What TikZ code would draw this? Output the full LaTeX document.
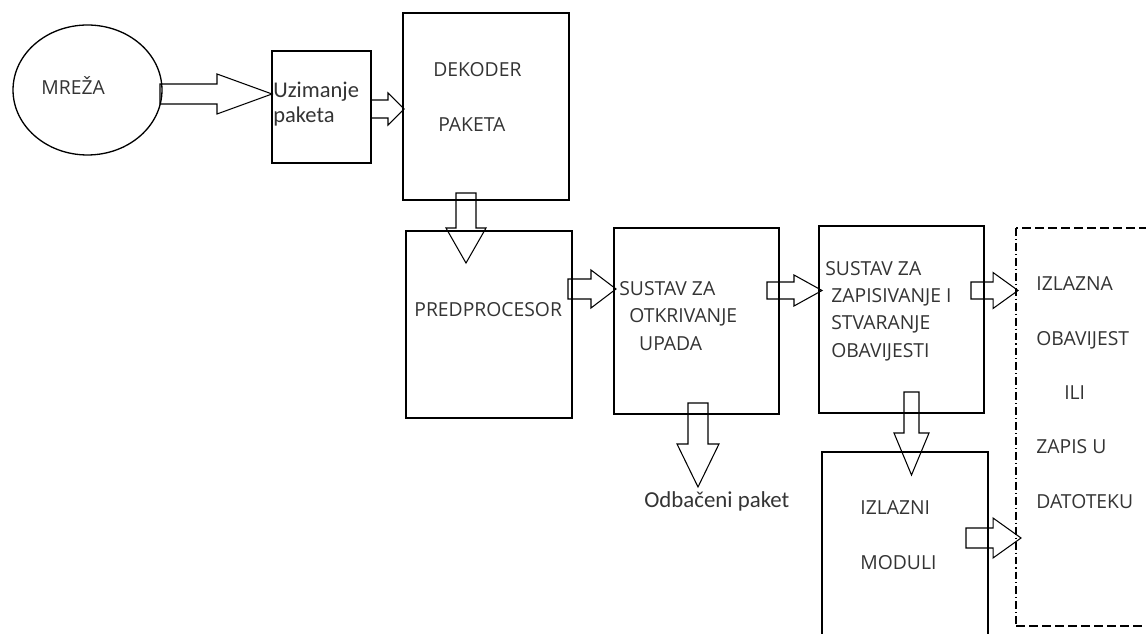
\documentclass[tikz,border=0pt]{standalone}
\usepackage{fontspec}
\setmainfont{Carlito}
\newfontfamily\capsfont{Open Sans}
\usetikzlibrary{calc,shapes.geometric}
\definecolor{Tinta}{RGB}{52,52,52}
\tikzset{
  procbox/.style={draw=black, line width=0.75pt, minimum width=3.32cm, minimum height=3.74cm,
    inner sep=0pt, outer sep=0pt},
  netell/.style={ellipse, draw=black, line width=0.75pt, minimum width=2.98cm, minimum height=2.6cm,
    inner sep=0pt, outer sep=0pt},
  outbox/.style={draw=none, minimum width=3.68cm, minimum height=7.96cm, inner sep=0pt, outer sep=0pt},
  outdash/.style={line width=1.3pt, dash pattern=on 5.2pt off 2.2pt},
  outdashdot/.style={line width=0.7pt, dash pattern=on 4.5pt off 1.7pt on 0.6pt off 1.7pt},
  capstext/.style={font=\capsfont\fontsize{11}{15.5}\selectfont, text=Tinta, align=left,
    inner sep=0pt, anchor=base west},
  capsspaced/.style={capstext, font=\capsfont\fontsize{11}{30.9}\selectfont},
  mixtext/.style={font=\fontsize{12.8}{14.2}\selectfont, text=Tinta, align=left,
    inner sep=0pt, anchor=base west},
  % ---- plna strelica: polovica debljine, polovica glave, duljina glave (px) ----
  blockarr/.style n args={3}{draw=black, line width=0.6pt, line join=miter,
    to path={let \p1=($(\tikztotarget)!#3*0.02cm!(\tikztostart)$) in
      ($(\tikztostart)!#1*0.02cm!90:(\tikztotarget)$)
      -- ($(\p1)!#1*0.02cm!90:(\tikztotarget)$)
      -- ($(\p1)!#2*0.02cm!90:(\tikztotarget)$)
      -- (\tikztotarget)
      -- ($(\p1)!#2*0.02cm!-90:(\tikztotarget)$)
      -- ($(\p1)!#1*0.02cm!-90:(\tikztotarget)$)
      -- ($(\tikztostart)!#1*0.02cm!-90:(\tikztotarget)$) -- cycle}},
}
\begin{document}
\begin{tikzpicture}[x=0.02cm, y=-0.02cm]
  \useasboundingbox (0,0) rectangle (1146,634);
  \clip (0,0) rectangle (1146,634);
  \fill[white] (0,0) rectangle (1146,634);
  % blokovi
  \node[netell] (mreza) at (87.5,90) {};
  \node[procbox, minimum width=1.98cm, minimum height=2.24cm] (uzim) at (321.5,107) {};
  \node[procbox] (dek) at (486,106.5) {};
  \node[procbox] (pred) at (489,324.5) {};
  \node[procbox, minimum width=3.30cm, minimum height=3.72cm] (otkr) at (696.5,321) {};
  \node[procbox, minimum width=3.30cm] (zapis) at (901.5,319.5) {};
  \node[procbox] (izl) at (905,545.5) {};
  \node[outbox] (out) at (1108,427) {};
  \draw[outdash] (out.north east) -- (out.north west);
  \draw[outdashdot] (out.north west) -- (out.south west);
  \draw[outdash] (out.south west) -- (out.south east);
  \coordinate (odbtip) at ($(otkr.south)+(1.5,73)$);
  % tekstovi (sidro na osnovnoj liniji zadnjeg retka)
  \node[capstext] (tmreza) at ($(mreza.west)+(28,5)$) {MREŽA};
  \node[mixtext] (tuzim) at ($(uzim.north west)+(1,71)$) {Uzimanje\\paketa};
  \node[capsspaced] (tdek) at ($(dek.north west)+(30,118)$) {DEKODER\\\hspace{2.8pt}PAKETA};
  \node[capstext] (tpred) at ($(pred.west)+(8,-7.5)$) {PREDPROCESOR};
  \node[capstext] (totkr) at ($(otkr.north west)+(5,122)$)
    {SUSTAV ZA\\\hspace{5.7pt}OTKRIVANJE\\\hspace{11.3pt}UPADA};
  \node[capstext] (tzapis) at ($(zapis.north west)+(6,131)$)
    {SUSTAV ZA\\\hspace{3.4pt}ZAPISIVANJE I\\\hspace{3.4pt}STVARANJE\\\hspace{3.4pt}OBAVIJESTI};
  \node[capsspaced] (tout) at ($(out.north west)+(20,280)$)
    {IZLAZNA\\OBAVIJEST\\\hspace{15.9pt}ILI\\ZAPIS U\\DATOTEKU};
  \node[capsspaced] (tizl) at ($(izl.north west)+(38,117)$) {IZLAZNI\\MODULI};
  \node[mixtext, font=\fontsize{13}{15}\selectfont] (todb) at ($(odbtip)+(-54,21)$) {Odbačeni paket};
  % strelice
  \draw[blockarr={10}{20}{55}] ($(mreza.east)+(-2,4)$) to ($(uzim.west)+(0,-13)$);
  \draw[blockarr={9}{16}{16}] ($(uzim.east)+(0,2)$) to ($(dek.west)+(1,2.5)$);
  \draw[blockarr={10}{20}{35}] ($(dek.south)+(-20,-7)$) to ($(pred.north)+(-23,32)$);
  \draw[blockarr={10}{19}{25}] ($(pred.east)+(-4,-35.5)$) to ($(otkr.west)+(2,-32)$);
  \draw[blockarr={10}{21}{43}] ($(otkr.south)+(1.5,-11)$) to (odbtip);
  \draw[blockarr={8.5}{15.5}{28}] ($(otkr.east)+(-12,-30.5)$) to ($(zapis.west)+(3,-29)$);
  \draw[blockarr={8.5}{18}{25}] ($(zapis.east)+(-13,-29)$) to ($(out.west)+(2,-136.5)$);
  \draw[blockarr={7.5}{17.5}{42}] ($(zapis.south)+(10,-21)$) to ($(izl.north)+(6.5,23)$);
  \draw[blockarr={10}{20}{28}] ($(izl.east)+(-22,-7.5)$) to ($(out.west)+(5,111)$);
\end{tikzpicture}
\end{document}
